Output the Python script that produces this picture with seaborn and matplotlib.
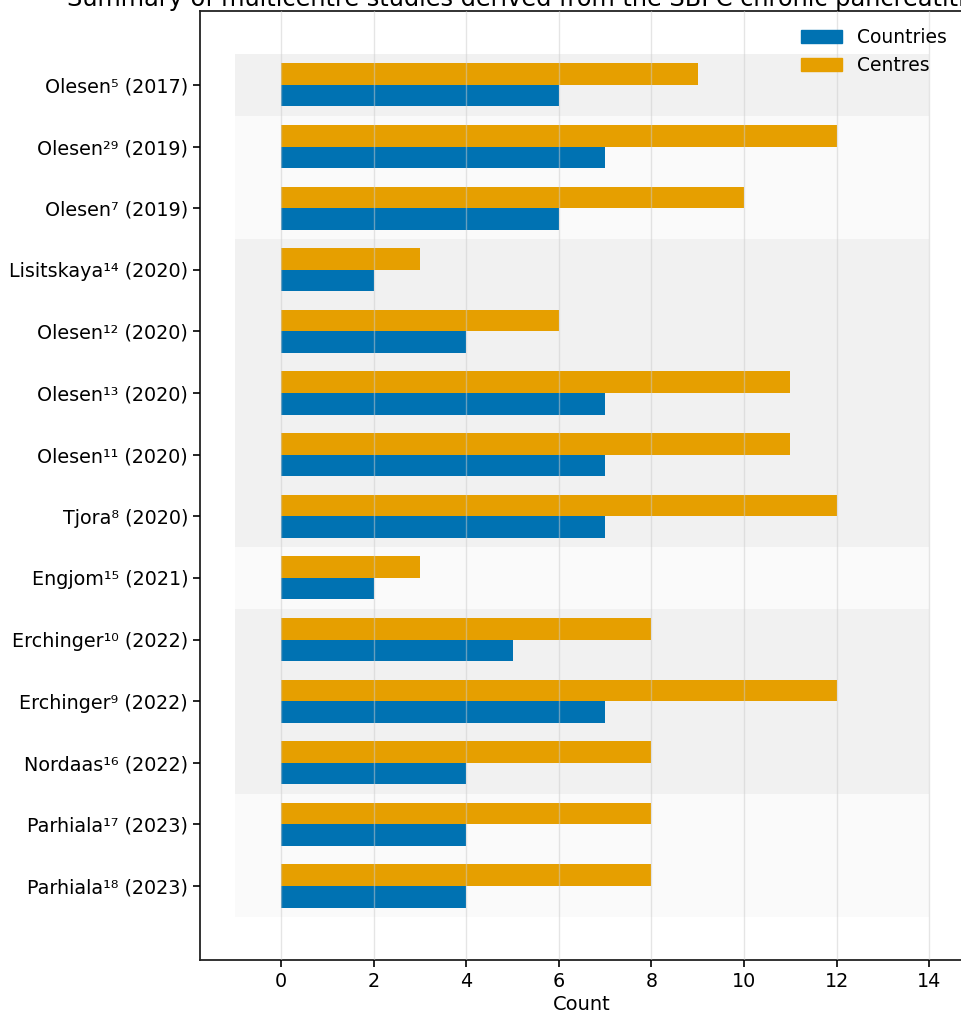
import numpy as np
import pandas as pd
import matplotlib
matplotlib.use("Agg")
import matplotlib.pyplot as plt
import seaborn as sns
from matplotlib.patches import Patch

# Studies (top to bottom) with reference number and year
studies = ["Olesen⁵ (2017)", "Olesen²⁹ (2019)", "Olesen⁷ (2019)", "Lisitskaya¹⁴ (2020)",
           "Olesen¹² (2020)", "Olesen¹³ (2020)", "Olesen¹¹ (2020)", "Tjora⁸ (2020)",
           "Engjom¹⁵ (2021)", "Erchinger¹⁰ (2022)", "Erchinger⁹ (2022)", "Nordaas¹⁶ (2022)",
           "Parhiala¹⁷ (2023)", "Parhiala¹⁸ (2023)"]
years = [2017, 2019, 2019, 2020, 2020, 2020, 2020, 2020, 2021, 2022, 2022, 2022, 2023, 2023]
countries = [6, 7, 6, 2, 4, 7, 7, 7, 2, 5, 7, 4, 4, 4]
centres = [9, 12, 10, 3, 6, 11, 11, 12, 3, 8, 12, 8, 8, 8]

blue = "#0072B2"
orange = "#E69F00"

df = pd.DataFrame({"study": studies * 2,
                   "metric": ["Centres"] * len(studies) + ["Countries"] * len(studies),
                   "value": centres + countries})

sns.set_theme(style="ticks")
plt.rcParams["font.family"] = ["DejaVu Sans"]
plt.rcParams["font.size"] = 14
plt.rcParams["text.color"] = "black"
plt.rcParams["axes.labelcolor"] = "black"

fig = plt.figure(figsize=(9.62, 10.15), dpi=100)
ax = fig.add_axes([0.2079, 0.0542, 0.7941, 0.935])

# alternating background bands per publication year
uniq = sorted(set(years))
for k, yr in enumerate(uniq):
    idx = [i for i, y in enumerate(years) if y == yr]
    col = "#f1f1f1" if k % 2 == 0 else "#fafafa"
    ax.fill_betweenx([min(idx) - 0.5, max(idx) + 0.5], -1, 14, color=col, zorder=0, lw=0)

sns.barplot(data=df, y="study", x="value", hue="metric", hue_order=["Centres", "Countries"],
            palette={"Centres": orange, "Countries": blue}, orient="h", width=0.7,
            saturation=1, linewidth=0, ax=ax, zorder=2, legend=False)

ax.set_xlim(-1.75, 14.75)
ax.set_ylim(len(studies) - 1 + 1.2, -1.2)
ax.set_xticks(np.arange(0, 15, 2))
ax.grid(axis="x", color="#cccccc", alpha=0.5, lw=1, zorder=3)
ax.set_axisbelow(False)
ax.set_xlabel("Count", fontsize=14, labelpad=3)
ax.set_ylabel("")
ax.tick_params(labelsize=13.8, length=5, width=1.2, colors="black")
for s in ax.spines.values():
    s.set_visible(True)
    s.set_color("#222222")
    s.set_linewidth(1.3)

handles = [Patch(color=blue, label="Countries"), Patch(color=orange, label="Centres")]
ax.legend(handles=handles, loc="upper right", frameon=False, fontsize=13.5,
          handlelength=2.2, borderaxespad=0.5, labelcolor="black")

ax.set_title("Summary of multicentre studies derived from the SBPC chronic pancreatitis database",
             fontsize=17.3, pad=0, color="black")

fig.savefig("out.png", dpi=100)
